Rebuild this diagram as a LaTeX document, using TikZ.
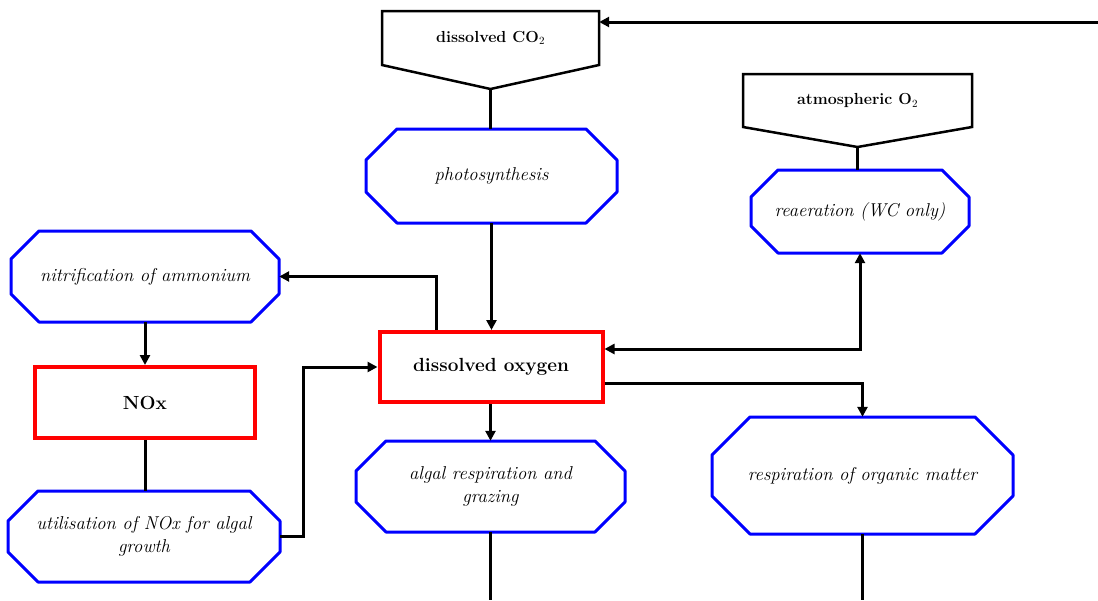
\documentclass[tikz,border=0pt]{standalone}
\usetikzlibrary{arrows.meta}
\definecolor{pblue}{RGB}{0,0,255}
\definecolor{sred}{RGB}{255,0,0}
\tikzset{
  conn/.style={line width=3pt, black},
  arr/.style={conn, -{Triangle[length=10pt,width=10pt]}},
  darr/.style={conn, {Triangle[length=10pt,width=10pt]}-{Triangle[length=10pt,width=10pt]}},
  procline/.style={draw=pblue, line width=3pt, line join=round},
  offline/.style={draw=black, line width=2.5pt, line join=miter},
  ptext/.style={font=\fontsize{18.6}{23}\selectfont\itshape, align=center, text=black, inner sep=0pt},
  btext/.style={font=\fontsize{16}{19}\selectfont\bfseries, align=center, inner sep=0pt},
  stock/.style={draw=sred, line width=4pt, rectangle, inner sep=0pt,
    font=\fontsize{19}{22}\selectfont\bfseries},
}
% #1 name, #2 x1, #3 y1, #4 x2, #5 y2, #6 chamfer, #7 text
\newcommand\procbox[7]{%
  \draw[procline] (#2+#6,#3) -- (#4-#6,#3) -- (#4,#3+#6) -- (#4,#5-#6) -- (#4-#6,#5)
     -- (#2+#6,#5) -- (#2,#5-#6) -- (#2,#3+#6) -- cycle;
  \node[ptext, minimum width={(#4-#2)*1pt}, minimum height={(#5-#3)*1pt}] (#1)
     at ({(#2+#4)/2},{(#3+#5)/2}) {#7};
}
% #1 name, #2 x1, #3 y1, #4 x2, #5 side bottom, #6 tip y, #7 text
\newcommand\offbox[7]{%
  \draw[offline] (#2,#3) -- (#4,#3) -- (#4,#5) -- ({(#2+#4)/2},#6) -- (#2,#5) -- cycle;
  \node[btext, minimum width={(#4-#2)*1pt}, minimum height={(#5-#3)*1pt}] (#1)
     at ({(#2+#4)/2},{(#3+#5)/2}) {#7};
  \coordinate (#1-tip) at ({(#2+#4)/2},#6);
}
\begin{document}
\begin{tikzpicture}[x=1pt,y=-1pt]
\useasboundingbox (0,0) rectangle (1098,600);

\offbox{co2}{382}{11}{599}{65}{89}{dissolved CO$_2$}
\offbox{o2}{743}{74}{972}{127}{147}{atmospheric O$_2$}

\procbox{photo}{366}{129}{617}{223}{31}{photosynthesis}
\procbox{reaer}{751}{170}{969}{253}{27}{reaeration (WC only)}
\procbox{nitr}{11}{231}{279}{322}{28}{nitrification of ammonium}
\procbox{util}{8}{491}{280}{582}{30}{utilisation of NOx for algal\\growth}
\procbox{algal}{356}{441}{625}{532}{30}{algal respiration and\\grazing}
\procbox{resp}{712}{417}{1013}{534}{38}{respiration of organic matter}

\node[stock, minimum width=220pt, minimum height=71pt] (nox) at (145,402.5) {NOx};
\node[stock, minimum width=223pt, minimum height=70pt] (do) at (491,367) {dissolved oxygen};

\coordinate (inco2) at (1098,22);
\coordinate (bot1) at (490.5,600);
\coordinate (bot2) at (862.5,600);

\draw[arr] (inco2) -- (inco2 -| co2.east);
\draw[conn] (co2-tip) -- (co2-tip |- photo.north);
\draw[arr] (photo.south) -- (photo.south |- do.north);
\draw[conn] (o2-tip) -- (o2-tip |- reaer.north);
\draw[darr] ([yshift=18pt]do.east) -| (reaer.south);
\draw[arr] ([yshift=-16pt]do.east) -| (resp.north);
\draw[arr] ([xshift=-55pt]do.north) |- (nitr.east);
\draw[arr] (nitr.south) -- (nox.north);
\draw[conn] (nox.south) -- (nox.south |- util.north);
\draw[arr] (util.east) -- ++(23,0) |- (do.west);
\draw[arr] (algal.north |- do.south) -- (algal.north);
\draw[conn] (algal.south) -- (bot1);
\draw[conn] (resp.south) -- (bot2);
\end{tikzpicture}
\end{document}
